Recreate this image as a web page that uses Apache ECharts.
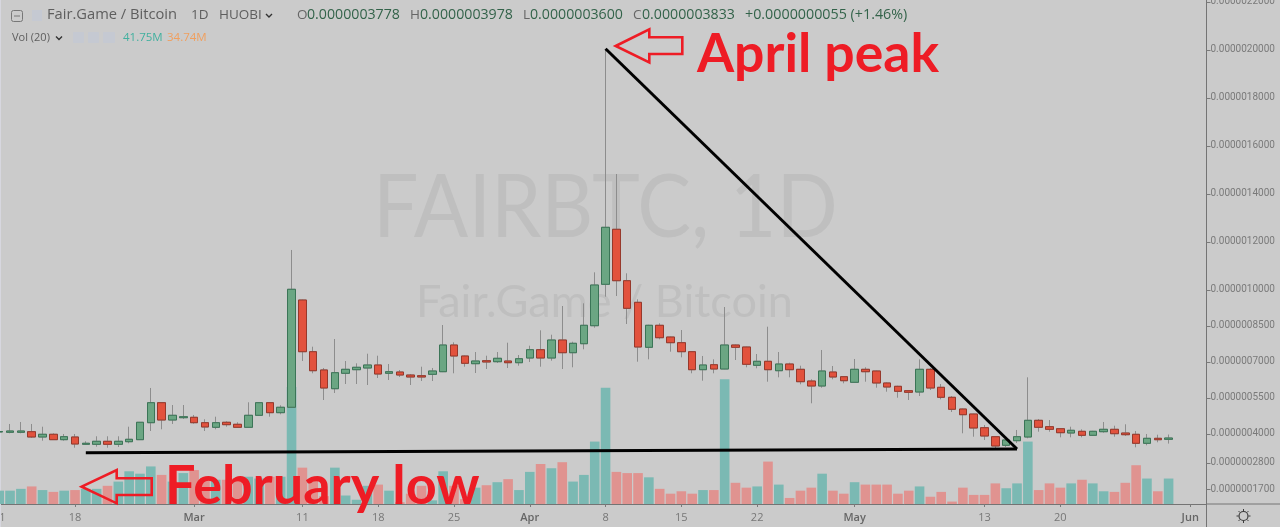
<!DOCTYPE html>
<html><head><meta charset="utf-8">
<style>html,body{margin:0;padding:0;background:#cbcbcb;overflow:hidden}#c{width:1280px;height:527px}</style>
<script src="https://cdn.jsdelivr.net/npm/echarts@6/dist/echarts.min.js"></script>
</head><body><div id="c"></div>
<script>
const categories=["Feb 11","Feb 12","Feb 13","Feb 14","Feb 15","Feb 16","Feb 17","Feb 18","Feb 19","Feb 20","Feb 21","Feb 22","Feb 23","Feb 24","Feb 25","Feb 26","Feb 27","Feb 28",
"Mar 1","Mar 2","Mar 3","Mar 4","Mar 5","Mar 6","Mar 7","Mar 8","Mar 9","Mar 10","Mar 11","Mar 12","Mar 13","Mar 14","Mar 15","Mar 16","Mar 17","Mar 18","Mar 19","Mar 20","Mar 21","Mar 22","Mar 23","Mar 24","Mar 25","Mar 26","Mar 27","Mar 28","Mar 29","Mar 30","Mar 31",
"Apr 1","Apr 2","Apr 3","Apr 4","Apr 5","Apr 6","Apr 7","Apr 8","Apr 9","Apr 10","Apr 11","Apr 12","Apr 13","Apr 14","Apr 15","Apr 16","Apr 17","Apr 18","Apr 19","Apr 20","Apr 21","Apr 22","Apr 23","Apr 24","Apr 25","Apr 26","Apr 27","Apr 28","Apr 29","Apr 30",
"May 1","May 2","May 3","May 4","May 5","May 6","May 7","May 8","May 9","May 10","May 11","May 12","May 13","May 14","May 15","May 16","May 17","May 18","May 19","May 20","May 21","May 22","May 23","May 24","May 25","May 26","May 27","May 28","May 29","May 30","May 31","Jun 1","Jun 2"];
// prices in units of 1e-10 BTC
const opens=[4083,4071,4071,4096,3875,3988,3763,3875,3571,3571,3696,3571,3679,3763,4471,5304,4583,4679,4696,4471,4279,4488,4404,4279,4779,5304,4888,5113,9583,7429,6667,5887,6529,6679,6750,6875,6529,6583,6458,6429,6487,6596,7708,7250,6929,7054,7012,7041,6970,7166,7512,7166,7916,7387,7762,8512,10237,12529,10387,9487,7612,8529,8041,7804,7429,6679,6887,6708,7708,7625,6862,7029,6637,6916,6695,6208,6000,6583,6387,6154,6695,6625,6125,5987,5804,5750,6695,5945,5529,5041,4833,4262,3887,3529,3721,3875,4570,4304,4220,4041,4112,3945,4096,4195,4041,3987,3612,3820,3778];
const closes=[4104,4125,4125,3875,3988,3763,3888,3583,3613,3696,3571,3696,3779,4488,5304,4583,4779,4721,4471,4292,4471,4388,4279,4779,5304,4888,5113,10029,7429,6637,5916,6554,6695,6779,6875,6500,6596,6458,6375,6375,6625,7708,7250,6945,7041,7000,7154,6970,7137,7512,7166,7916,7387,7779,8529,10208,12612,10387,9237,7625,8529,8012,7804,7429,6679,6875,6708,7708,7612,6904,7029,6679,6916,6679,6179,6000,6625,6375,6220,6695,6595,6125,5958,5779,5737,6695,5916,5529,5029,4804,4250,3916,3500,3750,3887,4570,4279,4195,4054,4154,3945,4112,4195,4012,3970,3612,3820,3762,3833];
const lows=[4063,4029,4029,3833,3721,3750,3721,3429,3542,3471,3429,3458,3613,3750,4125,4196,4417,4625,4429,4125,4196,4304,4263,4263,4750,4721,4821,5100,7042,6529,5416,5708,6083,6083,6041,6333,6250,6375,6041,6208,6208,6580,6529,6804,6541,6708,6958,6750,6846,7000,6804,7054,6708,6779,7529,8429,9721,9750,8583,7012,7112,7945,7429,7195,6529,6220,6529,6700,7083,6779,6737,6179,6362,6362,6070,5279,5929,6279,6112,6140,6179,5929,5762,5512,5416,5583,5833,5445,4916,4029,3887,3750,3416,3458,3625,3821,4096,4096,3862,3862,3862,3916,4054,3887,3916,3445,3529,3654,3600];
const highs=[4125,4417,4500,4417,4304,4029,4000,4000,3696,3904,3904,3904,4304,4500,5917,5304,5208,5208,4792,4613,4721,4529,4488,5321,5325,5325,5196,11667,9600,7638,6750,7958,7041,6945,7345,7262,6916,6666,6500,6804,6750,8541,7820,7270,7416,7262,7416,7804,7291,7679,8320,8137,9333,7845,9445,10737,20000,14833,10695,9612,8550,8612,8060,8333,7450,7250,7112,9291,7730,7640,7333,8470,7416,6970,6845,6279,7500,6833,6400,7125,6779,6640,6150,6010,5820,7112,6750,6083,5583,5060,4850,4375,3900,3790,4167,6362,4625,4583,4240,4304,4195,4130,4500,4345,4404,4125,4000,3970,3978];
// volume in millions
const volumes=[22,22,25,29,23,20,22,23,25,25,30,37,54,50,62,48,37,51,56,43,40,40,43,45,42,45,45,193,60,40,13,60,14,7,30,32,22,3,17,30,6,54,30,8,27,31,36,41,23,53,66,59,69,37,48,103,192,53,51,51,44,25,17,21,17,23,23,206,35,27,29,70,32,10,22,27,50,22,17,36,32,32,32,17,22,29,12,20,4,27,15,15,34,26,34,103,23,34,27,34,40,34,21,20,35,64,42,21,42];
const priceTicks=[1700,2800,4000,5500,7000,8500,10000,12000,14000,16000,18000,20000,22000];
const tickCategories=["Feb 11","Feb 18","Mar 1","Mar 11","Mar 18","Mar 25","Apr 1","Apr 8","Apr 15","Apr 22","May 1","May 13","May 20","Jun 1"];
const tickLabels=["11","18","Mar","11","18","25","Apr","8","15","22","May","13","20","Jun"];
const monthLabels=["Mar","Apr","May","Jun"];
const trendPeak=[["Apr 8",20050],["May 16",3375]];
const trendLow=[["Feb 19",3221],["May 16",3375]];

const C={bg:'#cbcbcb',upFill:'#6ba683',upLine:'#3b7557',dnFill:'#e2523d',dnLine:'#97382b',wick:'#8d8d8d',upBar:'#7bb9b3',dnBar:'#e09390',axis:'#747474',tick:'#7a7a7a',red:'#ee1c25',wm:'#bfbfbf',val:'#33634a',lab:'#666666'};
const UI='"Open Sans",sans-serif';
const isTick=i=>tickCategories.includes(categories[i]);

function T(x,y,text,size,fill,extra){return {type:'text',z:50,silent:true,style:Object.assign({x,y,text,fill,font:(extra&&extra.weight||'normal')+' '+size+'px '+(extra&&extra.family||UI),textVerticalAlign:'middle',textAlign:extra&&extra.align||'left'},{})};}
function arrow(points){return {type:'polygon',z:60,silent:true,shape:{points},style:{fill:'none',stroke:C.red,lineWidth:2.6}};}
function seg(x1,y1,x2,y2,stroke,w,z){return {type:'line',z:z==null?60:z,silent:true,shape:{x1,y1,x2,y2},style:{stroke,lineWidth:w}};}
function chev(x,y,col){return {type:'polyline',z:50,silent:true,shape:{points:[[x,y],[x+3,y+3],[x+6,y]]},style:{fill:'none',stroke:col,lineWidth:1.4}};}
const sunSpokes=[];
for(let a=0;a<8;a++){const r=a*Math.PI/4;sunSpokes.push(seg(1243.5+Math.cos(r)*5,516+Math.sin(r)*5,1243.5+Math.cos(r)*7,516+Math.sin(r)*7,'#3a3a3a',1));}

const graphic=[
 {type:'rect',z:1,silent:true,shape:{x:0,y:0,width:1,height:527},style:{fill:'#d7d7df'}},
 {type:'text',z:-1,silent:true,x:373,y:209,scaleX:0.915,style:{x:0,y:0,text:'FAIRBTC, 1D',fill:C.wm,font:'normal 88px Lato,sans-serif',textVerticalAlign:'middle'}},
 {type:'text',z:-1,silent:true,style:{x:416,y:302,text:'Fair.Game / Bitcoin',fill:C.wm,font:'normal 45px Lato,sans-serif',textVerticalAlign:'middle'}},
 // header
 {type:'rect',z:50,silent:true,shape:{x:11.5,y:10.5,width:11,height:11,r:2},style:{fill:'none',stroke:'#777',lineWidth:1}},
 seg(14,16,20,16,'#777',1,50),
 {type:'rect',z:50,silent:true,shape:{x:32,y:10,width:10,height:11},style:{fill:'#c5c9d2'}},
 T(47,15,'Fair.Game / Bitcoin',14.7,'#5e5e5e'),
 T(191,15,'1D',13.5,'#5e5e5e'),
 T(219,15,'HUOBI',13.5,'#5e5e5e'),
 chev(266,14,'#333'),
 T(297,15,'O',13.5,C.lab),T(307,15,'0.0000003778',14.2,C.val),
 T(410,15,'H',13.5,C.lab),T(420,15,'0.0000003978',14.2,C.val),
 T(523,15,'L',13.5,C.lab),T(530,15,'0.0000003600',14.2,C.val),
 T(633,15,'C',13.5,C.lab),T(642,15,'0.0000003833',14.2,C.val),
 T(745,15,'+0.0000000055 (+1.46%)',14.3,C.val),
 T(12,37.5,'Vol (20)',11,'#5e5e5e'),
 chev(56,36.5,'#333'),
 {type:'rect',z:50,silent:true,shape:{x:73,y:32,width:11,height:11,r:1},style:{fill:'#c5c9d2'}},
 {type:'rect',z:50,silent:true,shape:{x:88,y:32,width:11,height:11,r:1},style:{fill:'#c5c9d2'}},
 {type:'rect',z:50,silent:true,shape:{x:103,y:32,width:12,height:11,r:1},style:{fill:'#c5c9d2'}},
 T(123,38,'41.75M',11.5,'#41b09f'),
 T(167,38,'34.74M',11.5,'#f09f5e'),
 // annotations
 arrow([[615.7,46],[649.3,29.3],[649.3,37.3],[682.3,37.3],[682.3,54],[649.3,54],[649.3,62.3]]),
 arrow([[81.7,486.7],[116.7,470],[116.7,478.3],[151.7,478.3],[151.7,495],[116.7,495],[116.7,503.3]]),
 {type:'text',z:61,silent:true,style:{x:697,y:55,text:'April peak',fill:C.red,font:'bold 53.5px Lato,sans-serif',textVerticalAlign:'middle'}},
 {type:'text',z:61,silent:true,style:{x:165,y:487,text:'February low',fill:C.red,font:'bold 54px Lato,sans-serif',textVerticalAlign:'middle'}},
 // axis extensions
 seg(1206.5,504,1280,504,C.axis,1,5),
 seg(1206.5,504,1206.5,527,C.axis,1,5),
 {type:'circle',z:50,silent:true,shape:{cx:1243.5,cy:516,r:4.5},style:{fill:'none',stroke:'#3a3a3a',lineWidth:1.2}},
 ...sunSpokes
];

const upAt=i=>closes[i]>=opens[i];
const wickData=opens.map((o,i)=>[o,closes[i],lows[i],highs[i]]);
const bodyData=opens.map((o,i)=>[o,closes[i],Math.min(o,closes[i]),Math.max(o,closes[i])]);
const volData=volumes.map((v,i)=>({value:v,itemStyle:{color:upAt(i)?C.upBar:C.dnBar}}));

const chart=echarts.init(document.getElementById('c'),null,{renderer:'canvas'});
chart.setOption({
 animation:false,backgroundColor:C.bg,
 tooltip:{show:false},legend:{show:false},
 grid:{left:-6.2,top:0,width:1212.7,height:504,containLabel:false,outerBoundsMode:'none'},
 xAxis:{type:'category',data:categories,boundaryGap:true,
  axisLine:{show:true,lineStyle:{color:C.axis,width:1}},
  axisTick:{show:true,alignWithLabel:true,length:3,interval:i=>isTick(i),lineStyle:{color:C.tick}},
  splitLine:{show:false},
  axisLabel:{show:true,interval:i=>isTick(i),margin:8,color:'#777',fontFamily:UI,fontSize:11,hideOverlap:false,
   formatter:(v)=>{const k=tickCategories.indexOf(v);if(k<0)return '';const s=tickLabels[k];return monthLabels.includes(s)?'{m|'+s+'}':s;},
   rich:{m:{color:'#666',fontFamily:UI,fontSize:11,fontWeight:600}}}},
 yAxis:[
  {type:'value',position:'right',min:1083,max:22083,scale:true,
   axisLine:{show:true,onZero:false,lineStyle:{color:C.axis,width:1}},
   axisTick:{show:true,length:4,customValues:priceTicks,lineStyle:{color:C.tick}},
   splitLine:{show:false},
   axisLabel:{show:true,margin:4,color:'#7a7a7a',fontFamily:'Roboto,sans-serif',fontSize:10,padding:[4,0,0,0],customValues:priceTicks,formatter:v=>(v*1e-10).toFixed(10)}},
  {type:'value',position:'left',show:false,min:0,max:831.6,splitLine:{show:false}}
 ],
 graphic:{elements:graphic},
 series:[
  {name:'Volume',type:'bar',yAxisIndex:1,barWidth:9.6,data:volData,z:1,silent:true},
  {name:'Wicks',type:'candlestick',barWidth:8,data:wickData,z:2,silent:true,
   itemStyle:{color:C.wick,color0:C.wick,borderColor:C.wick,borderColor0:C.wick,borderWidth:1}},
  {name:'FAIRBTC',type:'candlestick',barWidth:8,data:bodyData,z:3,silent:true,
   itemStyle:{color:C.upFill,color0:C.dnFill,borderColor:C.upLine,borderColor0:C.dnLine,borderWidth:1}},
  {name:'Peak trend',type:'line',data:trendPeak,showSymbol:false,symbol:'none',z:4,silent:true,lineStyle:{color:'#000',width:3}},
  {name:'Low trend',type:'line',data:trendLow,showSymbol:false,symbol:'none',z:4,silent:true,lineStyle:{color:'#000',width:3}}
 ]
});
</script></body></html>
